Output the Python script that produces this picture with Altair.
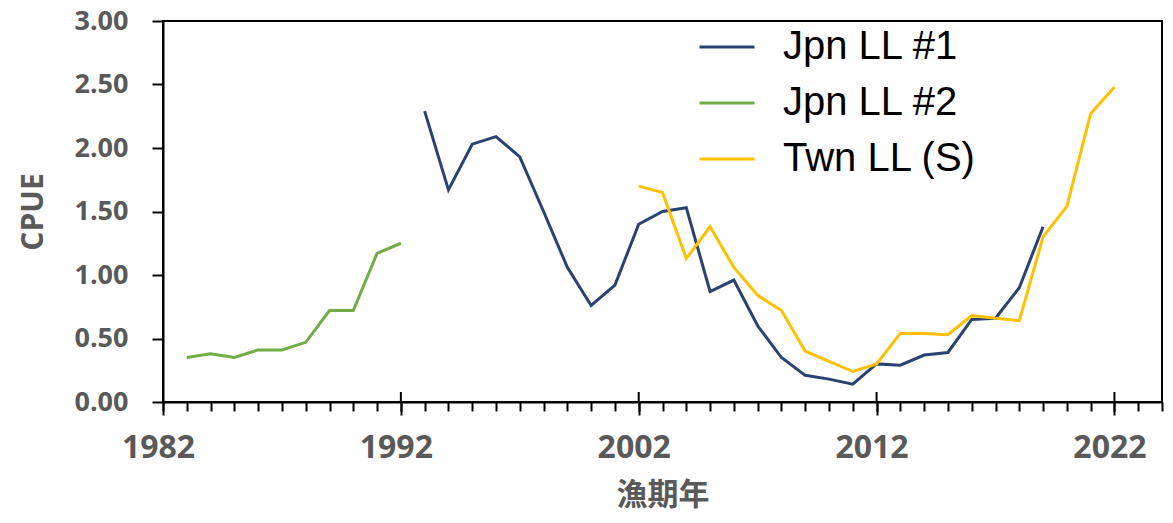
import altair as alt
import pandas as pd

# --- data ---
jpn1_years = list(range(1993, 2020))
jpn1_cpue = [2.29, 1.67, 2.03, 2.09, 1.93, 1.50, 1.06, 0.76, 0.92, 1.40,
             1.50, 1.53, 0.87, 0.96, 0.60, 0.35, 0.21, 0.18, 0.14, 0.30,
             0.29, 0.37, 0.39, 0.65, 0.66, 0.90, 1.38]

jpn2_years = list(range(1983, 1993))
jpn2_cpue = [0.35, 0.38, 0.35, 0.41, 0.41, 0.47, 0.72, 0.72, 1.17, 1.25]

twn_years = list(range(2002, 2023))
twn_cpue = [1.70, 1.65, 1.13, 1.38, 1.06, 0.84, 0.72, 0.40, 0.32, 0.24,
            0.30, 0.54, 0.54, 0.53, 0.68, 0.66, 0.64, 1.30, 1.54, 2.27, 2.48]

series_names = ["Jpn LL #1", "Jpn LL #2", "Twn LL (S)"]
series_colors = ["#2A4272", "#70AD47", "#FFC000"]

major_years = [1982, 1992, 2002, 2012, 2022]
minor_years = list(range(1982, 2025))
y_ticks = [0, 0.5, 1.0, 1.5, 2.0, 2.5, 3.0]

rows = []
for name, yrs, vals in zip(series_names,
                           [jpn1_years, jpn2_years, twn_years],
                           [jpn1_cpue, jpn2_cpue, twn_cpue]):
    for y, v in zip(yrs, vals):
        rows.append({"series": name, "year": y, "cpue": v})
df = pd.DataFrame(rows)

W, H = 999, 381
x_scale = alt.Scale(domain=[1982, 2024], nice=False, zero=False)
GREY = "#595959"

lines = alt.Chart(df).mark_line(strokeWidth=3).encode(
    x=alt.X("year:Q", scale=x_scale,
            axis=alt.Axis(values=major_years, format="d", grid=False,
                          orient="bottom", labelFlush=False,
                          tickSize=13, tickWidth=2, tickColor="black",
                          domainColor="black", domainWidth=2,
                          labelFont="Open Sans", labelFontWeight="bold",
                          labelFontSize=32, labelColor=GREY,
                          labelPadding=17, labelOffset=-5,
                          title="漁期年", titleFont="Noto Sans CJK TC",
                          titleFontWeight="bold", titleFontSize=31,
                          titleColor=GREY, titleY=93,
                          titleBaseline="middle")),
    y=alt.Y("cpue:Q", scale=alt.Scale(domain=[0, 3], nice=False),
            axis=alt.Axis(values=y_ticks, format=".2f", grid=False,
                          tickSize=11, tickWidth=2, tickColor="black",
                          domainColor="black", domainWidth=2,
                          labelFont="Open Sans", labelFontWeight="bold",
                          labelFontSize=27, labelColor=GREY,
                          labelPadding=24, labelFlush=False,
                          title="CPUE", titleFont="Open Sans",
                          titleFontWeight="bold", titleFontSize=30,
                          titleColor=GREY, titleX=-130, titleY=H / 2,
                          titleAngle=270, titleAlign="center",
                          titleBaseline="middle")),
    color=alt.Color("series:N",
                    scale=alt.Scale(domain=series_names, range=series_colors),
                    sort=series_names,
                    legend=alt.Legend(title=None, orient="none",
                                      legendX=535, legendY=-3,
                                      padding=0,
                                      symbolType="stroke", symbolSize=3025,
                                      symbolStrokeWidth=3,
                                      labelFont="Liberation Sans",
                                      labelFontSize=40, labelColor="black",
                                      labelOffset=27, rowPadding=7,
                                      labelLimit=400)),
    detail="series:N",
)

minor = alt.Chart(pd.DataFrame({"year": minor_years})).mark_point(opacity=0).encode(
    x=alt.X("year:Q", scale=x_scale,
            axis=alt.Axis(values=minor_years, labels=False, domain=False,
                          orient="bottom",
                          grid=False, tickSize=9, tickWidth=2,
                          tickColor="black", title=None)),
)

major_up = alt.Chart(pd.DataFrame({"year": major_years})).mark_rule(
    color="black", strokeWidth=2).encode(
    x=alt.X("year:Q", scale=x_scale, axis=None),
    y=alt.value(H - 10),
    y2=alt.value(H),
)

chart = alt.layer(lines, minor, major_up).resolve_axis(x="independent").properties(
    width=W, height=H,
    autosize=alt.AutoSizeParams(type="none"),
    padding={"left": 155, "top": 13, "right": 3, "bottom": 113},
).configure_view(stroke="black", strokeWidth=2)

chart.save("out.html", embed_options={"renderer": "svg", "actions": False})
